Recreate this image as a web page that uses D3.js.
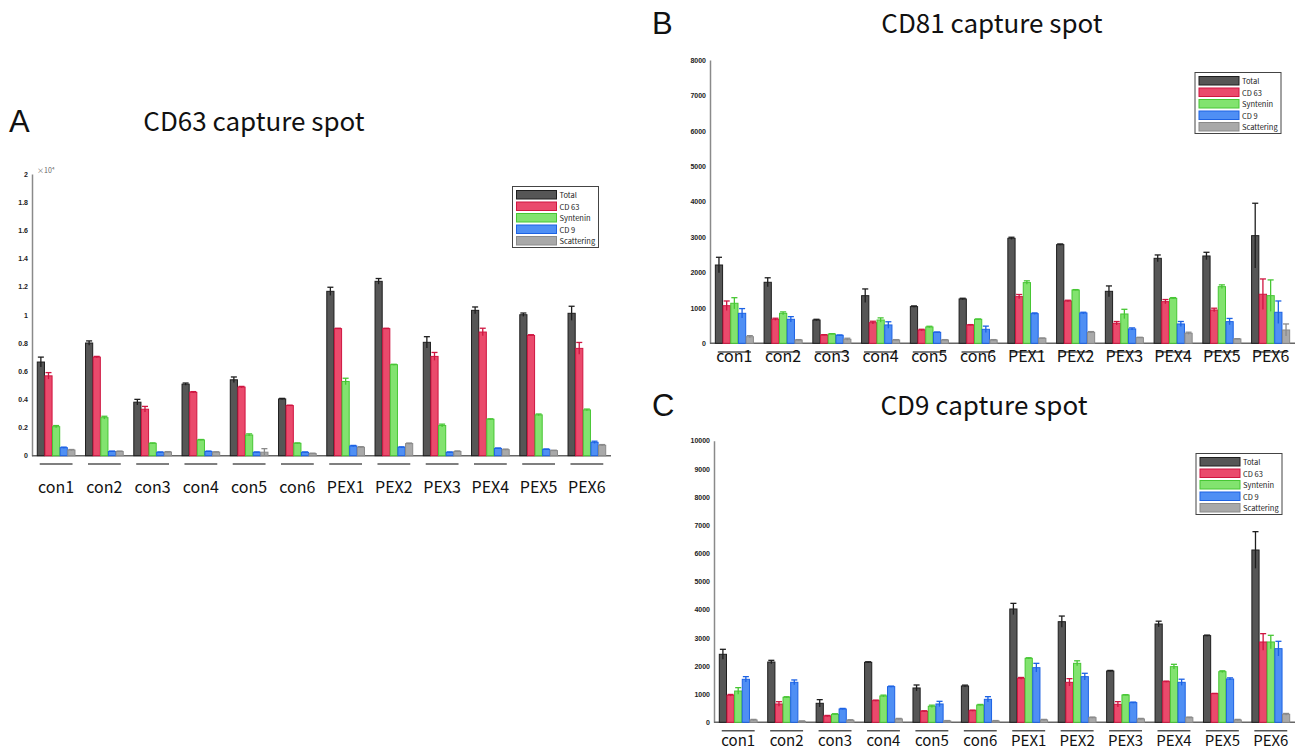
<!DOCTYPE html>
<html>
<head>
<meta charset="utf-8">
<script src="https://cdn.jsdelivr.net/npm/d3@7"></script>
<style>
  body { margin: 0; background: #fff; }
  svg { display: block; font-family: "Noto Sans CJK KR", "Noto Sans", sans-serif; }
</style>
</head>
<body>
<svg width="1304" height="752"></svg>
<script>
// categorias y series
const categories = ["con1", "con2", "con3", "con4", "con5", "con6", "PEX1", "PEX2", "PEX3", "PEX4", "PEX5", "PEX6"];
const seriesNames = ["Total", "CD 63", "Syntenin", "CD 9", "Scattering"];

// A: CD63 capture spot (x10^4)
const cd63Mean = [
  [0.665, 0.80, 0.38, 0.508, 0.539, 0.403, 1.167, 1.238, 0.805, 1.032, 1.001, 1.011],
  [0.567, 0.70, 0.33, 0.45, 0.487, 0.356, 0.902, 0.902, 0.705, 0.878, 0.854, 0.762],
  [0.206, 0.27, 0.088, 0.112, 0.147, 0.088, 0.527, 0.646, 0.214, 0.259, 0.29, 0.325],
  [0.057, 0.03, 0.024, 0.03, 0.024, 0.024, 0.069, 0.06, 0.024, 0.052, 0.045, 0.095],
  [0.04, 0.03, 0.026, 0.025, 0.025, 0.015, 0.06, 0.086, 0.03, 0.043, 0.036, 0.074]
];
const cd63Err = [
  [0.035, 0.015, 0.02, 0.008, 0.02, 0.004, 0.029, 0.02, 0.04, 0.024, 0.012, 0.05],
  [0.023, 0.005, 0.02, 0.005, 0.005, 0.003, 0.003, 0.003, 0.028, 0.027, 0.005, 0.042],
  [0.008, 0.01, 0.003, 0.003, 0.008, 0.003, 0.023, 0.003, 0.01, 0.003, 0.006, 0.006],
  [0.004, 0.003, 0.003, 0.003, 0.003, 0.003, 0.004, 0.003, 0.003, 0.003, 0.003, 0.008],
  [0.004, 0.003, 0.003, 0.003, 0.025, 0.003, 0.004, 0.004, 0.004, 0.004, 0.003, 0.005]
];
const cd63Ticks = [0, 0.2, 0.4, 0.6, 0.8, 1, 1.2, 1.4, 1.6, 1.8, 2];
const cd63TickLabels = ["0", "0.2", "0.4", "0.6", "0.8", "1", "1.2", "1.4", "1.6", "1.8", "2"];

// B: CD81 capture spot
const cd81Mean = [
  [2211, 1723, 658, 1345, 1036, 1252, 2965, 2786, 1468, 2400, 2466, 3040],
  [1062, 678, 235, 583, 376, 518, 1318, 1196, 565, 1176, 941, 1385],
  [1130, 847, 263, 658, 461, 678, 1714, 1506, 828, 1270, 1600, 1346],
  [847, 678, 226, 518, 310, 395, 838, 857, 405, 546, 612, 876],
  [186, 94, 113, 94, 94, 94, 141, 311, 160, 283, 122, 376]
];
const cd81Err = [
  [218, 127, 20, 190, 20, 20, 30, 20, 152, 95, 104, 915],
  [133, 30, 10, 40, 20, 10, 60, 20, 50, 60, 50, 432],
  [158, 40, 10, 60, 20, 10, 50, 10, 132, 20, 50, 444],
  [133, 75, 10, 90, 10, 90, 20, 20, 30, 70, 90, 319],
  [30, 10, 30, 10, 10, 10, 10, 20, 10, 30, 10, 170]
];
const cd81Ticks = [0, 1000, 2000, 3000, 4000, 5000, 6000, 7000, 8000];

// C: CD9 capture spot
const cd9Mean = [
  [2415, 2141, 675, 2130, 1219, 1290, 4024, 3573, 1822, 3491, 3077, 6119],
  [959, 650, 224, 769, 390, 414, 1562, 1420, 639, 1443, 1017, 2852],
  [1111, 888, 284, 935, 568, 614, 2272, 2094, 970, 1976, 1798, 2852],
  [1527, 1420, 473, 1266, 651, 816, 1940, 1621, 698, 1420, 1538, 2615],
  [83, 35, 71, 118, 47, 47, 83, 166, 118, 166, 83, 284]
];
const cd9Err = [
  [177, 60, 130, 20, 106, 30, 200, 200, 20, 100, 20, 651],
  [30, 82, 20, 20, 20, 20, 30, 130, 95, 20, 10, 296],
  [119, 20, 20, 30, 40, 20, 20, 90, 10, 83, 30, 237],
  [95, 84, 20, 20, 94, 95, 154, 119, 20, 110, 40, 261],
  [20, 15, 20, 20, 15, 15, 20, 20, 20, 20, 20, 30]
];
const cd9Ticks = [0, 1000, 2000, 3000, 4000, 5000, 6000, 7000, 8000, 9000, 10000];

const fills = ["#565656", "#ea4a6c", "#82e36f", "#4f8ff4", "#a9a9a9"];
const strokes = ["#1e1e1e", "#cf1540", "#47c634", "#1c62e4", "#8a8a8a"];

const svg = d3.select("svg");

function drawPanel(p) {
  const g = svg.append("g");

  const x = d3.scaleBand().domain(categories).range([p.x0, p.x1]).paddingInner(0.2).paddingOuter(0.1);
  const xs = d3.scaleBand().domain(d3.range(seriesNames.length)).range([0, x.bandwidth()]).padding(0.06);
  const y = d3.scaleLinear().domain([0, p.yMax]).range([p.yZero, p.yTop]);

  // titulo y letra del panel
  g.append("text").attr("x", p.letterX).attr("y", p.titleY + 1)
    .attr("font-family", "Liberation Sans, sans-serif")
    .attr("font-size", 31).attr("fill", "#111").text(p.letter);
  g.append("text").attr("x", p.titleX).attr("y", p.titleY)
    .attr("text-anchor", "middle").attr("font-size", 26).attr("fill", "#111").text(p.title);

  // eje Y
  const ya = g.append("g")
    .attr("transform", "translate(" + p.x0 + ",0)")
    .call(d3.axisLeft(y).tickValues(p.ticks).tickFormat((d, i) => p.tickLabels ? p.tickLabels[i] : d).tickSize(0).tickPadding(4));
  ya.select(".domain").attr("stroke", "#8a8a8a").attr("stroke-width", 1.5);
  ya.selectAll("text").attr("font-size", 7).attr("fill", "#222").attr("font-weight", "bold");
  if (p.expLabel) {
    g.append("text").attr("x", p.x0 + 5).attr("y", p.yTop - 1)
      .attr("font-size", 7).attr("fill", "#666").text(p.expLabel);
  }

  // linea base
  g.append("line")
    .attr("x1", p.x0).attr("x2", p.x1)
    .attr("y1", y(0)).attr("y2", y(0))
    .attr("stroke", "#666").attr("stroke-width", 1.5);

  // barras
  const cells = [];
  p.mean.forEach((row, s) => row.forEach((v, c) => cells.push({ s: s, c: categories[c], v: v, e: p.err[s][c] })));

  g.selectAll("rect.bar").data(cells).join("rect")
    .attr("class", "bar")
    .attr("x", d => x(d.c) + xs(d.s))
    .attr("y", d => y(d.v))
    .attr("width", xs.bandwidth())
    .attr("height", d => y(0) - y(d.v))
    .attr("fill", d => fills[d.s])
    .attr("stroke", d => strokes[d.s])
    .attr("stroke-width", 1);

  // barras de error
  const cap = xs.bandwidth() * 0.42;
  const eb = g.selectAll("g.err").data(cells).join("g").attr("class", "err")
    .attr("stroke", d => strokes[d.s]).attr("stroke-width", 1.3);
  eb.append("line")
    .attr("x1", d => x(d.c) + xs(d.s) + xs.bandwidth() / 2)
    .attr("x2", d => x(d.c) + xs(d.s) + xs.bandwidth() / 2)
    .attr("y1", d => y(Math.max(0, d.v - d.e)))
    .attr("y2", d => y(d.v + d.e));
  eb.append("line")
    .attr("x1", d => x(d.c) + xs(d.s) + xs.bandwidth() / 2 - cap)
    .attr("x2", d => x(d.c) + xs(d.s) + xs.bandwidth() / 2 + cap)
    .attr("y1", d => y(d.v + d.e))
    .attr("y2", d => y(d.v + d.e));

  // subrayado y etiquetas de grupo
  g.selectAll("line.under").data(categories).join("line")
    .attr("class", "under")
    .attr("x1", d => x(d) + x.bandwidth() / 2 - x.step() * 0.34)
    .attr("x2", d => x(d) + x.bandwidth() / 2 + x.step() * 0.34)
    .attr("y1", p.underY).attr("y2", p.underY)
    .attr("stroke", "#555").attr("stroke-width", 1.6);
  g.selectAll("text.cat").data(categories).join("text")
    .attr("class", "cat")
    .attr("x", d => x(d) + x.bandwidth() / 2)
    .attr("y", p.labelY)
    .attr("text-anchor", "middle")
    .attr("font-size", p.labelSize).attr("fill", "#111")
    .text(d => d);

  // leyenda
  const lg = g.append("g").attr("transform", "translate(" + p.legX + "," + p.legY + ")");
  lg.append("rect").attr("width", 86).attr("height", 61)
    .attr("fill", "#fff").attr("stroke", "#444").attr("stroke-width", 1);
  seriesNames.forEach((name, i) => {
    lg.append("rect").attr("x", 4).attr("y", 4 + i * 11.5).attr("width", 40).attr("height", 8.5)
      .attr("fill", fills[i]).attr("stroke", strokes[i]).attr("stroke-width", 1);
    lg.append("text").attr("x", 47).attr("y", 11.5 + i * 11.5)
      .attr("font-size", 7.5).attr("fill", "#222").text(name);
  });
}

drawPanel({ letter: "A", title: "CD63 capture spot", letterX: 9, titleX: 254, titleY: 131,
  mean: cd63Mean, err: cd63Err, yMax: 2, ticks: cd63Ticks, tickLabels: cd63TickLabels, expLabel: "×10⁴",
  x0: 32, x1: 611, yTop: 174, yZero: 455.7, underY: 464, labelY: 493, labelSize: 16, legX: 512.5, legY: 186.5 });

drawPanel({ letter: "B", title: "CD81 capture spot", letterX: 652, titleX: 992, titleY: 33,
  mean: cd81Mean, err: cd81Err, yMax: 8000, ticks: cd81Ticks,
  x0: 710, x1: 1295, yTop: 60, yZero: 343.3, underY: 352, labelY: 362, labelSize: 16, legX: 1195, legY: 72.5 });

drawPanel({ letter: "C", title: "CD9 capture spot", letterX: 652, titleX: 984, titleY: 415,
  mean: cd9Mean, err: cd9Err, yMax: 10000, ticks: cd9Ticks,
  x0: 714, x1: 1295, yTop: 440.7, yZero: 722.3, underY: 730.7, labelY: 746, labelSize: 15, legX: 1196, legY: 453.5 });
</script>
</body>
</html>
